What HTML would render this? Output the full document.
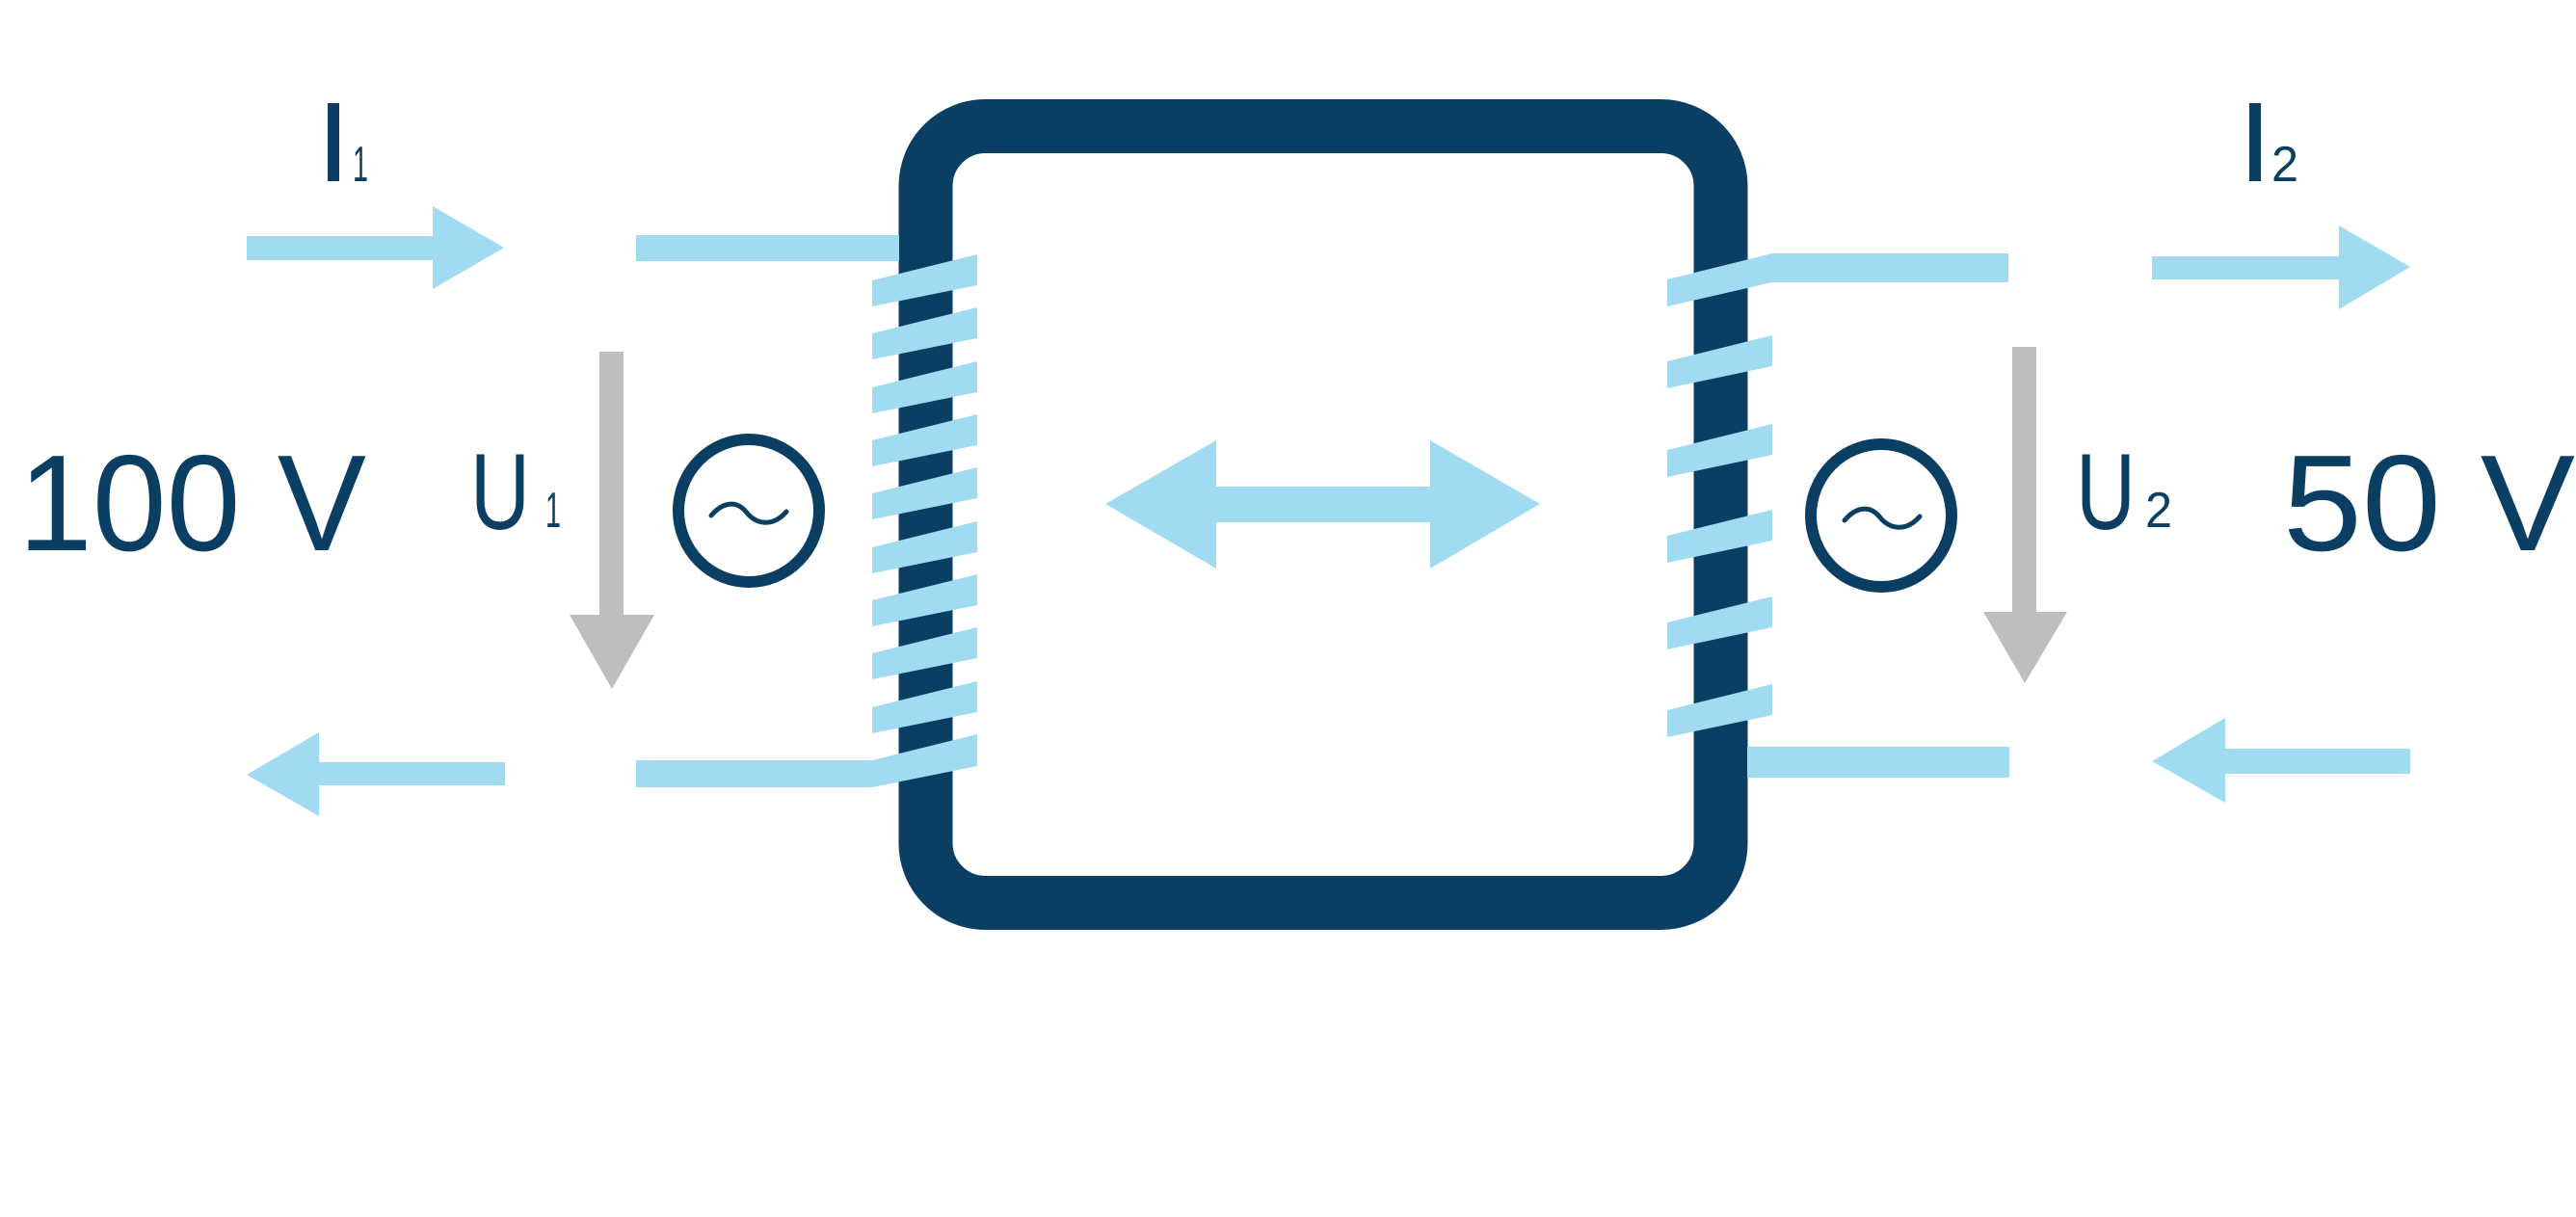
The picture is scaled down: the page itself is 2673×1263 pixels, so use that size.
<!DOCTYPE html>
<html><head><meta charset="utf-8"><style>
html,body{margin:0;padding:0;background:#fff;}
svg{display:block;}
text{font-family:"Liberation Sans",sans-serif;fill:#0a3f63;}
</style></head><body>
<svg width="2673" height="1263" viewBox="0 0 2673 1263" xmlns="http://www.w3.org/2000/svg">
<rect x="0" y="0" width="2673" height="1263" fill="#fff"/>
<!-- core -->
<rect x="960.5" y="131" width="825" height="806" rx="62" ry="62" fill="none" stroke="#0a3f63" stroke-width="56"/>
<g fill="#a0dbf1">
<!-- left wires -->
<rect x="660" y="244" width="273" height="27"/>
<polygon points="660,789 905,789 1014,762 1014,795 905,817 660,817"/>
<!-- left coil strips -->
<polygon points="905,291 1014,264 1014,296 905,318"/>
<polygon points="905,346 1014,319 1014,351 905,373"/>
<polygon points="905,402 1014,375 1014,407 905,429"/>
<polygon points="905,457 1014,430 1014,462 905,484"/>
<polygon points="905,512 1014,485 1014,517 905,539"/>
<polygon points="905,568 1014,541 1014,573 905,595"/>
<polygon points="905,623 1014,596 1014,628 905,650"/>
<polygon points="905,678 1014,651 1014,683 905,705"/>
<polygon points="905,734 1014,707 1014,739 905,761"/>
<!-- right wires -->
<polygon points="1730,290 1839,263 2084,263 2084,293 1839,293 1730,318"/>
<rect x="1813" y="775" width="272" height="32"/>
<polygon points="1730,375 1839,348 1839,380 1730,403"/>
<polygon points="1730,467 1839,440 1839,472 1730,495"/>
<polygon points="1730,556 1839,529 1839,561 1730,584"/>
<polygon points="1730,646 1839,619 1839,651 1730,674"/>
<polygon points="1730,737 1839,710 1839,742 1730,765"/>
<!-- current arrows -->
<polygon points="256,245 449,245 449,214 523,257 449,300 449,270 256,270"/>
<polygon points="256,804 331,760 331,791 524,791 524,815 331,815 331,847"/>
<polygon points="2233,266 2427,266 2427,234 2501,277 2427,321 2427,290 2233,290"/>
<polygon points="2233,790 2309,745 2309,777 2501,777 2501,803 2309,803 2309,833"/>
<!-- flux double arrow -->
<polygon points="1147,523 1262,457 1262,505 1484,505 1484,457 1598,523 1484,590 1484,542 1262,542 1262,590"/>
</g>
<!-- voltage arrows -->
<g fill="#bdbec0">
<polygon points="622,365 647,365 647,638 679,638 635,715 591,638 622,638"/>
<polygon points="2088,360 2113,360 2113,635 2145,635 2101,709 2058,635 2088,635"/>
</g>
<!-- sources -->
<g fill="none" stroke="#0a3f63">
<ellipse cx="777" cy="530" rx="73" ry="74" stroke-width="12"/>
<path d="M738,535 c12,-14 26,-16 36,-4 c11,14 28,16 42,0" stroke-width="5" stroke-linecap="round"/>
<ellipse cx="1952" cy="535" rx="73" ry="74" stroke-width="12"/>
<path d="M1914,540 c12,-14 26,-16 36,-4 c11,14 28,16 42,0" stroke-width="5" stroke-linecap="round"/>
</g>
<!-- labels -->
<text x="19" y="571" font-size="142" textLength="361" lengthAdjust="spacingAndGlyphs">100 V</text>
<text x="2369" y="571" font-size="142" textLength="303" lengthAdjust="spacingAndGlyphs">50 V</text>
<text x="488" y="549" font-size="112" textLength="62" lengthAdjust="spacingAndGlyphs">U</text>
<text x="566" y="547" font-size="52" textLength="16" lengthAdjust="spacingAndGlyphs">1</text>
<text x="2154" y="549" font-size="112" textLength="62" lengthAdjust="spacingAndGlyphs">U</text>
<text x="2226" y="547" font-size="52" textLength="28" lengthAdjust="spacingAndGlyphs">2</text>
<rect x="340" y="107" width="12" height="81" fill="#0a3f63"/>
<text x="366" y="188" font-size="52" textLength="16" lengthAdjust="spacingAndGlyphs">1</text>
<rect x="2334" y="107" width="12" height="81" fill="#0a3f63"/>
<text x="2357" y="188" font-size="52" textLength="28" lengthAdjust="spacingAndGlyphs">2</text>
</svg>
</body></html>
